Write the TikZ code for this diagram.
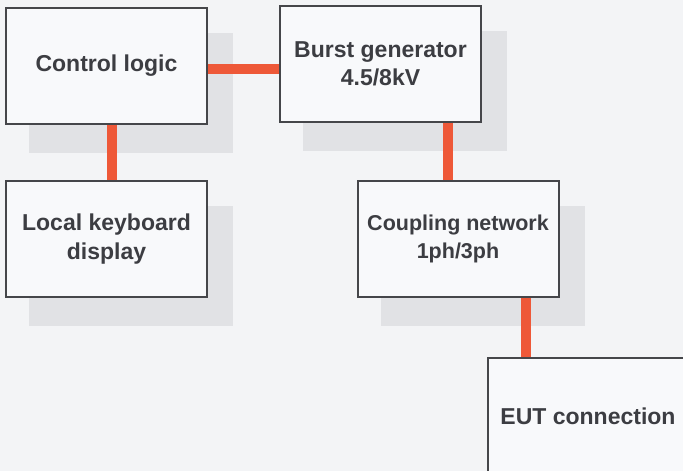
\documentclass[tikz,border=0pt]{standalone}
\usepackage{fontspec}
\setmainfont{Liberation Sans}
\pgfdeclarelayer{background}
\pgfsetlayers{background,main}
\definecolor{pagebg}{HTML}{F3F4F6}
\definecolor{boxfill}{HTML}{F8F9FB}
\definecolor{shade}{HTML}{E1E2E5}
\definecolor{edge}{HTML}{45464A}
\definecolor{txt}{HTML}{3C3D42}
\definecolor{wire}{HTML}{EE5838}
\begin{document}
\begin{tikzpicture}[x=1pt,y=-1pt,
  box/.style={draw=edge, line width=2pt, fill=boxfill, minimum width=201pt, minimum height=116pt,
    inner sep=0pt, align=center, text=txt, font=\fontsize{23}{28.5}\selectfont\bfseries},
  narrowtext/.style={font=\fontsize{21.5}{28.5}\selectfont\bfseries},
  wirestyle/.style={draw=wire, line width=10pt, line cap=butt},
  shadowbox/.style={fill=shade, draw=none}]
\begin{pgfonlayer}{background}
\fill[pagebg] (0,0) rectangle (683,471);
\end{pgfonlayer}
\useasboundingbox (0,0) rectangle (683,471);
\node[box] (cl) at (106.5,66) {Control logic};
\node[box] (bg) at (380.5,64) {Burst generator\\4.5/8kV};
\node[box] (ks) at (106.5,239) {Local keyboard\\display};
\node[box, narrowtext] (cn) at (458,239) {Coupling network\\1ph/3ph};
\node[box] (eut) at (588,416) {EUT connection};
\begin{pgfonlayer}{background}
\foreach \n in {cl,bg,ks,cn}{
  \fill[shadowbox] ([shift={(24,26)}]\n.north west) rectangle ([shift={(25,28)}]\n.south east);
}
\end{pgfonlayer}
\draw[wirestyle] ([yshift=-3pt]cl.east) -- ([yshift=-5pt]bg.west);
\draw[wirestyle] ([xshift=5.5pt]cl.south) -- ([xshift=5.5pt]ks.north);
\draw[wirestyle] ([xshift=67.5pt]bg.south) -- ([xshift=-10pt]cn.north);
\draw[wirestyle] ([xshift=67.5pt]cn.south) -- ([xshift=-62.5pt]eut.north);
\end{tikzpicture}
\end{document}
